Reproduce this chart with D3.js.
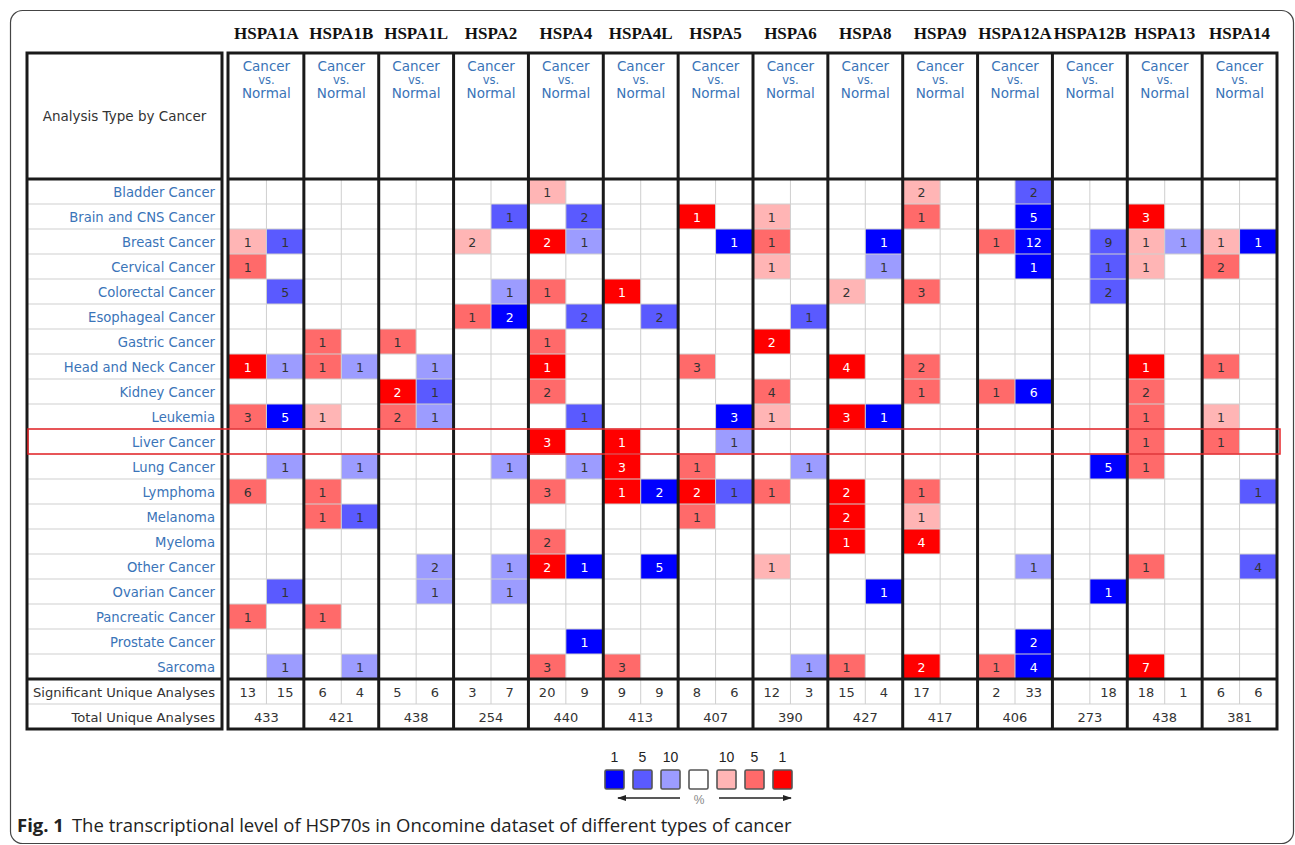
<!DOCTYPE html>
<html><head><meta charset="utf-8">
<script src="https://cdn.jsdelivr.net/npm/d3@7"></script>
<style>body{margin:0;background:#fff}svg{display:block}</style>
</head><body><svg id="chart" width="1295" height="845"></svg>
<script>
// ---------------- DATA ----------------
const genes = ["HSPA1A","HSPA1B","HSPA1L","HSPA2","HSPA4","HSPA4L","HSPA5","HSPA6","HSPA8","HSPA9","HSPA12A","HSPA12B","HSPA13","HSPA14"];
const cancerTypes = ["Bladder Cancer","Brain and CNS Cancer","Breast Cancer","Cervical Cancer","Colorectal Cancer","Esophageal Cancer","Gastric Cancer","Head and Neck Cancer","Kidney Cancer","Leukemia","Liver Cancer","Lung Cancer","Lymphoma","Melanoma","Myeloma","Other Cancer","Ovarian Cancer","Pancreatic Cancer","Prostate Cancer","Sarcoma"];
const sides = ["over","under"];
// [gene, cancer, number of analyses, gene-rank threshold %]
const overExpressed = [
 ["HSPA1A","Breast Cancer",1,10],["HSPA1A","Cervical Cancer",1,5],["HSPA1A","Head and Neck Cancer",1,1],["HSPA1A","Leukemia",3,5],["HSPA1A","Lymphoma",6,5],["HSPA1A","Pancreatic Cancer",1,5],
 ["HSPA1B","Gastric Cancer",1,5],["HSPA1B","Head and Neck Cancer",1,5],["HSPA1B","Leukemia",1,10],["HSPA1B","Lymphoma",1,5],["HSPA1B","Melanoma",1,5],["HSPA1B","Pancreatic Cancer",1,5],
 ["HSPA1L","Gastric Cancer",1,5],["HSPA1L","Kidney Cancer",2,1],["HSPA1L","Leukemia",2,5],
 ["HSPA2","Breast Cancer",2,10],["HSPA2","Esophageal Cancer",1,5],
 ["HSPA4","Bladder Cancer",1,10],["HSPA4","Breast Cancer",2,1],["HSPA4","Colorectal Cancer",1,5],["HSPA4","Gastric Cancer",1,5],["HSPA4","Head and Neck Cancer",1,1],["HSPA4","Kidney Cancer",2,5],["HSPA4","Liver Cancer",3,1],["HSPA4","Lymphoma",3,5],["HSPA4","Myeloma",2,5],["HSPA4","Other Cancer",2,1],["HSPA4","Sarcoma",3,5],
 ["HSPA4L","Colorectal Cancer",1,1],["HSPA4L","Liver Cancer",1,1],["HSPA4L","Lung Cancer",3,1],["HSPA4L","Lymphoma",1,1],["HSPA4L","Sarcoma",3,5],
 ["HSPA5","Brain and CNS Cancer",1,1],["HSPA5","Head and Neck Cancer",3,5],["HSPA5","Lung Cancer",1,5],["HSPA5","Lymphoma",2,1],["HSPA5","Melanoma",1,5],
 ["HSPA6","Brain and CNS Cancer",1,10],["HSPA6","Breast Cancer",1,5],["HSPA6","Cervical Cancer",1,10],["HSPA6","Gastric Cancer",2,1],["HSPA6","Kidney Cancer",4,5],["HSPA6","Leukemia",1,10],["HSPA6","Lymphoma",1,5],["HSPA6","Other Cancer",1,10],
 ["HSPA8","Colorectal Cancer",2,10],["HSPA8","Head and Neck Cancer",4,1],["HSPA8","Leukemia",3,1],["HSPA8","Lymphoma",2,1],["HSPA8","Melanoma",2,1],["HSPA8","Myeloma",1,1],["HSPA8","Sarcoma",1,5],
 ["HSPA9","Bladder Cancer",2,10],["HSPA9","Brain and CNS Cancer",1,5],["HSPA9","Colorectal Cancer",3,5],["HSPA9","Head and Neck Cancer",2,5],["HSPA9","Kidney Cancer",1,5],["HSPA9","Lymphoma",1,5],["HSPA9","Melanoma",1,10],["HSPA9","Myeloma",4,1],["HSPA9","Sarcoma",2,1],
 ["HSPA12A","Breast Cancer",1,5],["HSPA12A","Kidney Cancer",1,5],["HSPA12A","Sarcoma",1,5],
 ["HSPA13","Brain and CNS Cancer",3,1],["HSPA13","Breast Cancer",1,10],["HSPA13","Cervical Cancer",1,10],["HSPA13","Head and Neck Cancer",1,1],["HSPA13","Kidney Cancer",2,5],["HSPA13","Leukemia",1,5],["HSPA13","Liver Cancer",1,5],["HSPA13","Lung Cancer",1,5],["HSPA13","Other Cancer",1,5],["HSPA13","Sarcoma",7,1],
 ["HSPA14","Breast Cancer",1,10],["HSPA14","Cervical Cancer",2,5],["HSPA14","Head and Neck Cancer",1,5],["HSPA14","Leukemia",1,10],["HSPA14","Liver Cancer",1,5]
];
const underExpressed = [
 ["HSPA1A","Breast Cancer",1,5],["HSPA1A","Colorectal Cancer",5,5],["HSPA1A","Head and Neck Cancer",1,10],["HSPA1A","Leukemia",5,1],["HSPA1A","Lung Cancer",1,10],["HSPA1A","Ovarian Cancer",1,5],["HSPA1A","Sarcoma",1,10],
 ["HSPA1B","Head and Neck Cancer",1,10],["HSPA1B","Lung Cancer",1,10],["HSPA1B","Melanoma",1,5],["HSPA1B","Sarcoma",1,10],
 ["HSPA1L","Head and Neck Cancer",1,10],["HSPA1L","Kidney Cancer",1,5],["HSPA1L","Leukemia",1,10],["HSPA1L","Other Cancer",2,10],["HSPA1L","Ovarian Cancer",1,10],
 ["HSPA2","Brain and CNS Cancer",1,5],["HSPA2","Colorectal Cancer",1,10],["HSPA2","Esophageal Cancer",2,1],["HSPA2","Lung Cancer",1,10],["HSPA2","Other Cancer",1,10],["HSPA2","Ovarian Cancer",1,10],
 ["HSPA4","Brain and CNS Cancer",2,5],["HSPA4","Breast Cancer",1,10],["HSPA4","Esophageal Cancer",2,5],["HSPA4","Leukemia",1,5],["HSPA4","Lung Cancer",1,10],["HSPA4","Other Cancer",1,1],["HSPA4","Prostate Cancer",1,1],
 ["HSPA4L","Esophageal Cancer",2,5],["HSPA4L","Lymphoma",2,1],["HSPA4L","Other Cancer",5,1],
 ["HSPA5","Breast Cancer",1,1],["HSPA5","Leukemia",3,1],["HSPA5","Liver Cancer",1,10],["HSPA5","Lymphoma",1,5],
 ["HSPA6","Esophageal Cancer",1,5],["HSPA6","Lung Cancer",1,10],["HSPA6","Sarcoma",1,10],
 ["HSPA8","Breast Cancer",1,1],["HSPA8","Cervical Cancer",1,10],["HSPA8","Leukemia",1,1],["HSPA8","Ovarian Cancer",1,1],
 ["HSPA12A","Bladder Cancer",2,5],["HSPA12A","Brain and CNS Cancer",5,1],["HSPA12A","Breast Cancer",12,1],["HSPA12A","Cervical Cancer",1,1],["HSPA12A","Kidney Cancer",6,1],["HSPA12A","Other Cancer",1,10],["HSPA12A","Prostate Cancer",2,1],["HSPA12A","Sarcoma",4,1],
 ["HSPA12B","Breast Cancer",9,5],["HSPA12B","Cervical Cancer",1,5],["HSPA12B","Colorectal Cancer",2,5],["HSPA12B","Lung Cancer",5,1],["HSPA12B","Ovarian Cancer",1,1],
 ["HSPA13","Breast Cancer",1,10],
 ["HSPA14","Breast Cancer",1,1],["HSPA14","Lymphoma",1,5],["HSPA14","Other Cancer",4,5]
];
const sigOver  = [13,6,5,3,20,9,8,12,15,17,2,null,18,6];
const sigUnder = [15,4,6,7,9,9,6,3,4,null,33,18,1,6];
const totalAnalyses = [433,421,438,254,440,413,407,390,427,417,406,273,438,381];
const summaryLabels = ["Significant Unique Analyses","Total Unique Analyses"];
const legendUnder = [1,5,10];
const legendOver = [10,5,1];
const highlightCancer = "Liver Cancer";
const caption = "The transcriptional level of HSP70s in Oncomine dataset of different types of cancer";

// ---------------- DRAW ----------------
const svg = d3.select("#chart");
const SANS = "'DejaVu Sans', Verdana, sans-serif";
const BLUE_TXT = "#3a74b8";
const overColor = d3.scaleOrdinal().domain([1,5,10]).range(["#ff0000","#ff6a6a","#ffb5b5"]);
const underColor = d3.scaleOrdinal().domain([1,5,10]).range(["#0000ff","#5a5aff","#9c9cff"]);

const x = d3.scaleBand().domain(genes).range([229,1277]);
const xs = d3.scaleBand().domain(sides).range([0, x.bandwidth()]);
const y = d3.scaleBand().domain(cancerTypes).range([179,679]);
const ySum = d3.scaleBand().domain(summaryLabels).range([679,729]);
const tableTop = 53, labL = 27, labR = 222, dataL = 228, dataR = 1277;

// outer rounded frame
svg.append("rect").attr("x",10.5).attr("y",10.5).attr("width",1283).attr("height",833)
  .attr("rx",12).attr("fill","#fff").attr("stroke","#444").attr("stroke-width",1.2);

// cells
const cells = overExpressed.map(d=>({gene:d[0],cancer:d[1],n:d[2],p:d[3],side:"over"}))
  .concat(underExpressed.map(d=>({gene:d[0],cancer:d[1],n:d[2],p:d[3],side:"under"})));
const g = svg.append("g");
g.selectAll("rect.cell").data(cells).join("rect").attr("class","cell")
  .attr("x",d=>x(d.gene)+xs(d.side)).attr("y",d=>y(d.cancer))
  .attr("width",xs.bandwidth()).attr("height",y.bandwidth())
  .attr("fill",d=>d.side==="over"?overColor(d.p):underColor(d.p));

// thin grid lines
const grid = svg.append("g").attr("stroke","#cfcfcf").attr("stroke-width",1);
cancerTypes.slice(1).forEach(c=>{
  grid.append("line").attr("x1",labL).attr("x2",labR).attr("y1",y(c)).attr("y2",y(c));
  grid.append("line").attr("x1",dataL).attr("x2",dataR).attr("y1",y(c)).attr("y2",y(c));
});
grid.append("line").attr("x1",labL).attr("x2",labR).attr("y1",ySum(summaryLabels[1])).attr("y2",ySum(summaryLabels[1]));
grid.append("line").attr("x1",dataL).attr("x2",dataR).attr("y1",ySum(summaryLabels[1])).attr("y2",ySum(summaryLabels[1]));
genes.forEach(gn=>{
  const xm = x(gn)+xs("under");
  grid.append("line").attr("x1",xm).attr("x2",xm).attr("y1",179).attr("y2",ySum(summaryLabels[1]));
});

// cell numbers
g.selectAll("text.num").data(cells).join("text")
  .attr("x",d=>x(d.gene)+xs(d.side)+xs.bandwidth()/2).attr("y",d=>y(d.cancer)+y.bandwidth()/2+1)
  .attr("text-anchor","middle").attr("dominant-baseline","central")
  .attr("font-family",SANS).attr("font-size",12.5)
  .attr("fill",d=>d.p===1?"#fff":"#333").text(d=>d.n);

// thick frame lines
const thick = svg.append("g").attr("stroke","#1a1a1a").attr("stroke-width",3).attr("fill","none");
thick.append("rect").attr("x",labL).attr("y",tableTop).attr("width",labR-labL).attr("height",729-tableTop);
thick.append("rect").attr("x",dataL).attr("y",tableTop).attr("width",dataR-dataL).attr("height",729-tableTop);
[179,679].forEach(yy=>{
  thick.append("line").attr("x1",labL).attr("x2",labR).attr("y1",yy).attr("y2",yy);
  thick.append("line").attr("x1",dataL).attr("x2",dataR).attr("y1",yy).attr("y2",yy);
});
genes.slice(1).forEach(gn=>{
  thick.append("line").attr("x1",x(gn)).attr("x2",x(gn)).attr("y1",tableTop).attr("y2",729);
});

// gene headers
svg.append("g").selectAll("text").data(genes).join("text")
  .attr("x",d=>x(d)+x.bandwidth()/2).attr("y",39).attr("text-anchor","middle")
  .attr("font-family","'Liberation Serif','Times New Roman',serif").attr("font-weight","bold")
  .attr("font-size",17).attr("fill","#111").text(d=>d);

// "Cancer vs. Normal"
const hdr = svg.append("g").attr("font-family",SANS).attr("fill",BLUE_TXT).attr("text-anchor","middle");
genes.forEach(gn=>{
  const cx = x(gn)+x.bandwidth()/2;
  hdr.append("text").attr("x",cx).attr("y",71).attr("font-size",13.5).text("Cancer");
  hdr.append("text").attr("x",cx).attr("y",84).attr("font-size",11.5).text("vs.");
  hdr.append("text").attr("x",cx).attr("y",98).attr("font-size",13.5).text("Normal");
});
svg.append("text").attr("x",(labL+labR)/2).attr("y",116).attr("text-anchor","middle")
  .attr("dominant-baseline","central").attr("font-family",SANS).attr("font-size",13.5)
  .attr("fill","#333").text("Analysis Type by Cancer");

// row labels
svg.append("g").selectAll("text").data(cancerTypes).join("text")
  .attr("x",215).attr("y",d=>y(d)+y.bandwidth()/2+1).attr("text-anchor","end")
  .attr("dominant-baseline","central").attr("font-family",SANS).attr("font-size",13.2)
  .attr("fill",BLUE_TXT).text(d=>d);
svg.append("g").selectAll("text").data(summaryLabels).join("text")
  .attr("x",215).attr("y",d=>ySum(d)+ySum.bandwidth()/2+1).attr("text-anchor","end")
  .attr("dominant-baseline","central").attr("font-family",SANS).attr("font-size",13.1)
  .attr("fill","#333").text(d=>d);

// summary numbers
const sumG = svg.append("g").attr("font-family",SANS).attr("font-size",13).attr("fill","#333")
  .attr("text-anchor","middle").attr("dominant-baseline","central");
genes.forEach((gn,i)=>{
  const ys = ySum(summaryLabels[0])+ySum.bandwidth()/2+1;
  if(sigOver[i]!=null) sumG.append("text").attr("x",x(gn)+xs("over")+xs.bandwidth()/2).attr("y",ys).text(sigOver[i]);
  if(sigUnder[i]!=null) sumG.append("text").attr("x",x(gn)+xs("under")+xs.bandwidth()/2).attr("y",ys).text(sigUnder[i]);
  sumG.append("text").attr("x",x(gn)+x.bandwidth()/2).attr("y",ySum(summaryLabels[1])+ySum.bandwidth()/2+1).text(totalAnalyses[i]);
});

// highlight of liver cancer row
svg.append("rect").attr("x",28).attr("y",y(highlightCancer)).attr("width",1252).attr("height",y.bandwidth())
  .attr("fill","none").attr("stroke","#e8262a").attr("stroke-width",1.5);

// legend
const legendItems = legendUnder.map(v=>({label:String(v),fill:underColor(v)}))
  .concat([{label:"",fill:"#fff"}])
  .concat(legendOver.map(v=>({label:String(v),fill:overColor(v)})));
const lx = d3.scaleBand().domain(d3.range(legendItems.length)).range([605,801]);
const leg = svg.append("g");
leg.selectAll("rect").data(legendItems).join("rect")
  .attr("x",(d,i)=>lx(i)).attr("y",770).attr("width",19).attr("height",19).attr("rx",1.5)
  .attr("fill",d=>d.fill).attr("stroke","#555").attr("stroke-width",1.6);
leg.selectAll("text").data(legendItems).join("text")
  .attr("x",(d,i)=>lx(i)+9.5).attr("y",762).attr("text-anchor","middle")
  .attr("font-family","'Liberation Sans',Arial,sans-serif").attr("font-size",14).attr("fill","#222")
  .text(d=>d.label);
svg.append("defs").append("marker").attr("id","ah").attr("viewBox","0 0 10 10").attr("refX",9).attr("refY",5)
  .attr("markerWidth",7).attr("markerHeight",7).attr("orient","auto-start-reverse")
  .append("path").attr("d","M0,1.5 L10,5 L0,8.5 z").attr("fill","#222");
leg.append("line").attr("x1",680).attr("x2",618).attr("y1",798).attr("y2",798).attr("stroke","#222").attr("stroke-width",1.3).attr("marker-end","url(#ah)");
leg.append("line").attr("x1",719).attr("x2",791).attr("y1",798).attr("y2",798).attr("stroke","#222").attr("stroke-width",1.3).attr("marker-end","url(#ah)");
leg.append("text").attr("x",699).attr("y",804).attr("text-anchor","middle").attr("font-family","'Liberation Sans',Arial,sans-serif")
  .attr("font-size",12).attr("fill","#888").text("%");

// caption
const cap = svg.append("text").attr("x",17).attr("y",832).attr("font-family","'Open Sans',sans-serif")
  .attr("font-size",18.5).attr("fill","#222");
cap.append("tspan").attr("font-weight","bold").text("Fig. 1");
cap.append("tspan").attr("dx",8).text(caption);
</script>
</body></html>
